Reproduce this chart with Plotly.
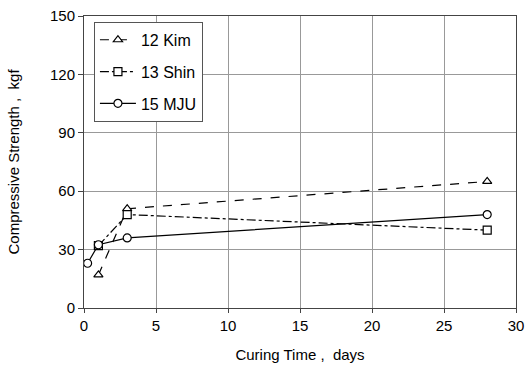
import plotly.graph_objects as go

kim_x = [1, 3, 28]
kim_y = [17, 51, 65]
shin_x = [1, 3, 28]
shin_y = [32, 48, 40]
mju_x = [0.25, 1, 3, 28]
mju_y = [23, 32.5, 36, 48]

names = ["12 Kim", "13 Shin", "15 MJU"]
xs = [kim_x, shin_x, mju_x]
ys = [kim_y, shin_y, mju_y]
dashes = ["dash", "dashdot", "solid"]
symbols = ["triangle-up", "square", "circle"]

fig = go.Figure()
for i, (n, x, y, d, s) in enumerate(zip(names, xs, ys, dashes, symbols)):
    fig.add_trace(go.Scatter(
        x=x, y=y, name=n, mode="lines+markers", legendgroup=f"g{i}",
        line=dict(color="black", width=1.2, dash=d),
        marker=dict(symbol=s, size=8, color="white", line=dict(color="black", width=1.2)),
    ))

fam = "Liberation Sans, Arial, sans-serif"
font = dict(family=fam, size=14, color="black")
fig.update_layout(
    width=525, height=367,
    margin=dict(l=84, r=9, t=16, b=59, autoexpand=False),
    paper_bgcolor="white", plot_bgcolor="white",
    font=font,
    showlegend=True,
    legend=dict(x=0.023, y=0.98, xanchor="left", yanchor="top",
                bordercolor="#555", borderwidth=1, bgcolor="white",
                font=dict(family=fam, size=16, color="black"),
                tracegroupgap=8, itemwidth=36),
    xaxis=dict(range=[0, 30], tickvals=[0, 5, 10, 15, 20, 25, 30],
               showgrid=True, gridcolor="#999", gridwidth=1,
               showline=True, linecolor="#444", linewidth=1, mirror=True,
               ticks="outside", ticklen=4, tickcolor="#444",
               zeroline=False, automargin=False, tickfont=dict(family=fam, size=15),
               ticklabeloverflow="allow",
               title=dict(text="Curing Time ,  days", font=dict(family=fam, size=15), standoff=16)),
    yaxis=dict(range=[0, 150], tickvals=[0, 30, 60, 90, 120, 150],
               showgrid=True, gridcolor="#999", gridwidth=1,
               showline=True, linecolor="#444", linewidth=1, mirror=True,
               ticks="outside", ticklen=5, tickcolor="#444",
               zeroline=False, automargin=False, tickfont=dict(family=fam, size=15),
               ticklabeloverflow="allow",
               title=dict(text="Compressive Strength ,  kgf", font=dict(family=fam, size=15), standoff=26)),
)

fig.write_html("out.html", config={"displayModeBar": False},
               post_script="document.body.style.margin='0';document.body.style.padding='0';")
